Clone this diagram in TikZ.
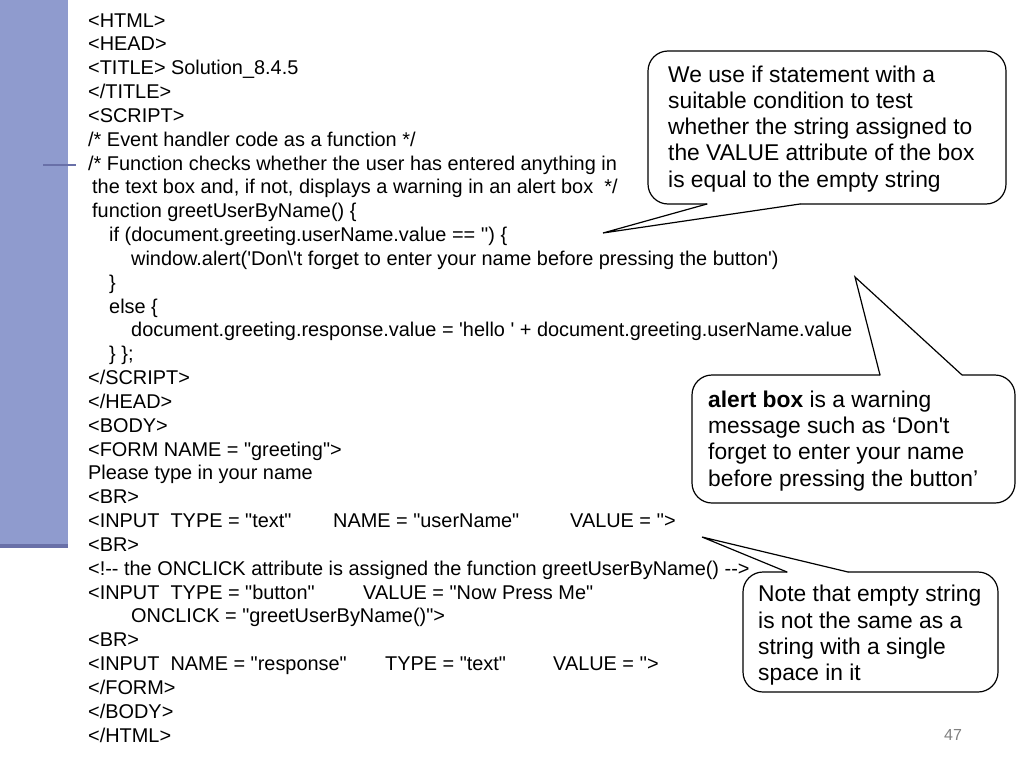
\documentclass[tikz,border=0pt]{standalone}
\usepackage{fontspec}
\setmainfont{Liberation Sans}[Ligatures=TeXOff]
\definecolor{barblue}{RGB}{143,155,206}
\definecolor{bardark}{RGB}{105,112,168}
\definecolor{pagegray}{RGB}{128,128,128}
\begin{document}
\begin{tikzpicture}
        [x=1pt, y=-1pt,
        code/.style={anchor=base west, inner sep=0, font=\fontsize{19.9}{23.83}\selectfont, align=left},
        note/.style={anchor=base west, inner sep=0, font=\fontsize{22.8}{26.2}\selectfont, align=left},
        balloon/.style={line width=1.2, rounded corners=20},
        pointer/.style={line width=1.2, line cap=round, line join=miter}]
        \useasboundingbox (0,0) rectangle (1024,768);
        \fill[barblue] (0,0) rectangle (68,546);
        \fill[bardark] (0,544) rectangle (68,548);
        \draw[bardark, line width=2] (43,165) -- (76,165);

        % base anchor = baseline of the last line
        \node[code] (src) at (88,742) {<HTML>\\<HEAD>\\<TITLE> Solution\_8.4.5\\</TITLE>\\<SCRIPT>\\
        /* Event handler code as a function */\\
        /* Function checks whether the user has entered anything in\\
        \hspace*{4pt}the text box and, if not, displays a warning in an alert box\ \ */\\
        \hspace*{4pt}function greetUserByName() \{\\
        \hspace*{21pt}if (document.greeting.userName.value == '') \{\\
        \hspace*{43pt}window.alert('Don\textbackslash 't forget to enter your name before pressing the button')\\
        \hspace*{21pt}\}\\
        \hspace*{21pt}else \{\\
        \hspace*{43pt}document.greeting.response.value = 'hello ' + document.greeting.userName.value\\
        \hspace*{21pt}\} \};\\
        </SCRIPT>\\</HEAD>\\<BODY>\\<FORM NAME = "greeting">\\Please type in your name\\<BR>\\
        \makebox[245pt][l]{<INPUT\ \ TYPE = "text"}\makebox[237pt][l]{NAME = "userName"}VALUE = ''>\\
        <BR>\\
        <!-{}- the ONCLICK attribute is assigned the function greetUserByName() -{}->\\
        \makebox[275pt][l]{<INPUT\ \ TYPE = "button"}VALUE = "Now Press Me"\\
        \hspace*{43pt}ONCLICK = "greetUserByName()">\\
        <BR>\\
        \makebox[297pt][l]{<INPUT\ \ NAME = "response"}\makebox[168pt][l]{TYPE = "text"}VALUE = ''>\\
        </FORM>\\</BODY>\\</HTML>};

        \node[note] (ifnote) at (668,187) {We use if statement with a\\suitable condition to test\\whether the string assigned to\\the VALUE attribute of the box\\is equal to the empty string};
        \node[note] (alertnote) at (708,486) {\textbf{alert box} is a warning\\message such as ‘Don't\\forget to enter your name\\before pressing the button’};
        \node[note] (spacenote) at (758,680.5) {Note that empty string\\is not the same as a\\string with a single\\space in it};
        \node[anchor=base west, inner sep=0, text=pagegray, font=\fontsize{16}{16}\selectfont] (page) at (944,740) {47};

        \coordinate (iftip) at (603,233);
        \coordinate (alerttip) at (855,277);
        \coordinate (spacetip) at (702,537);

        \draw[balloon] (800,204) -- (1006,204) -- (1006,51) -- (648,51) -- (648,204) -- (707,204);
        \draw[pointer] (707,204) -- (iftip) -- (800,204);
        \draw[balloon] (880,375) -- (692,375) -- (692,503) -- (1015,503) -- (1015,375) -- (962,375);
        \draw[pointer] (962,375) -- (alerttip) -- (880,375);
        \draw[balloon] (787,572) -- (743,572) -- (743,692) -- (998,692) -- (998,572) -- (848,572);
        \draw[pointer] (848,572) -- (spacetip) -- (787,572);
    \end{tikzpicture}
\end{document}
